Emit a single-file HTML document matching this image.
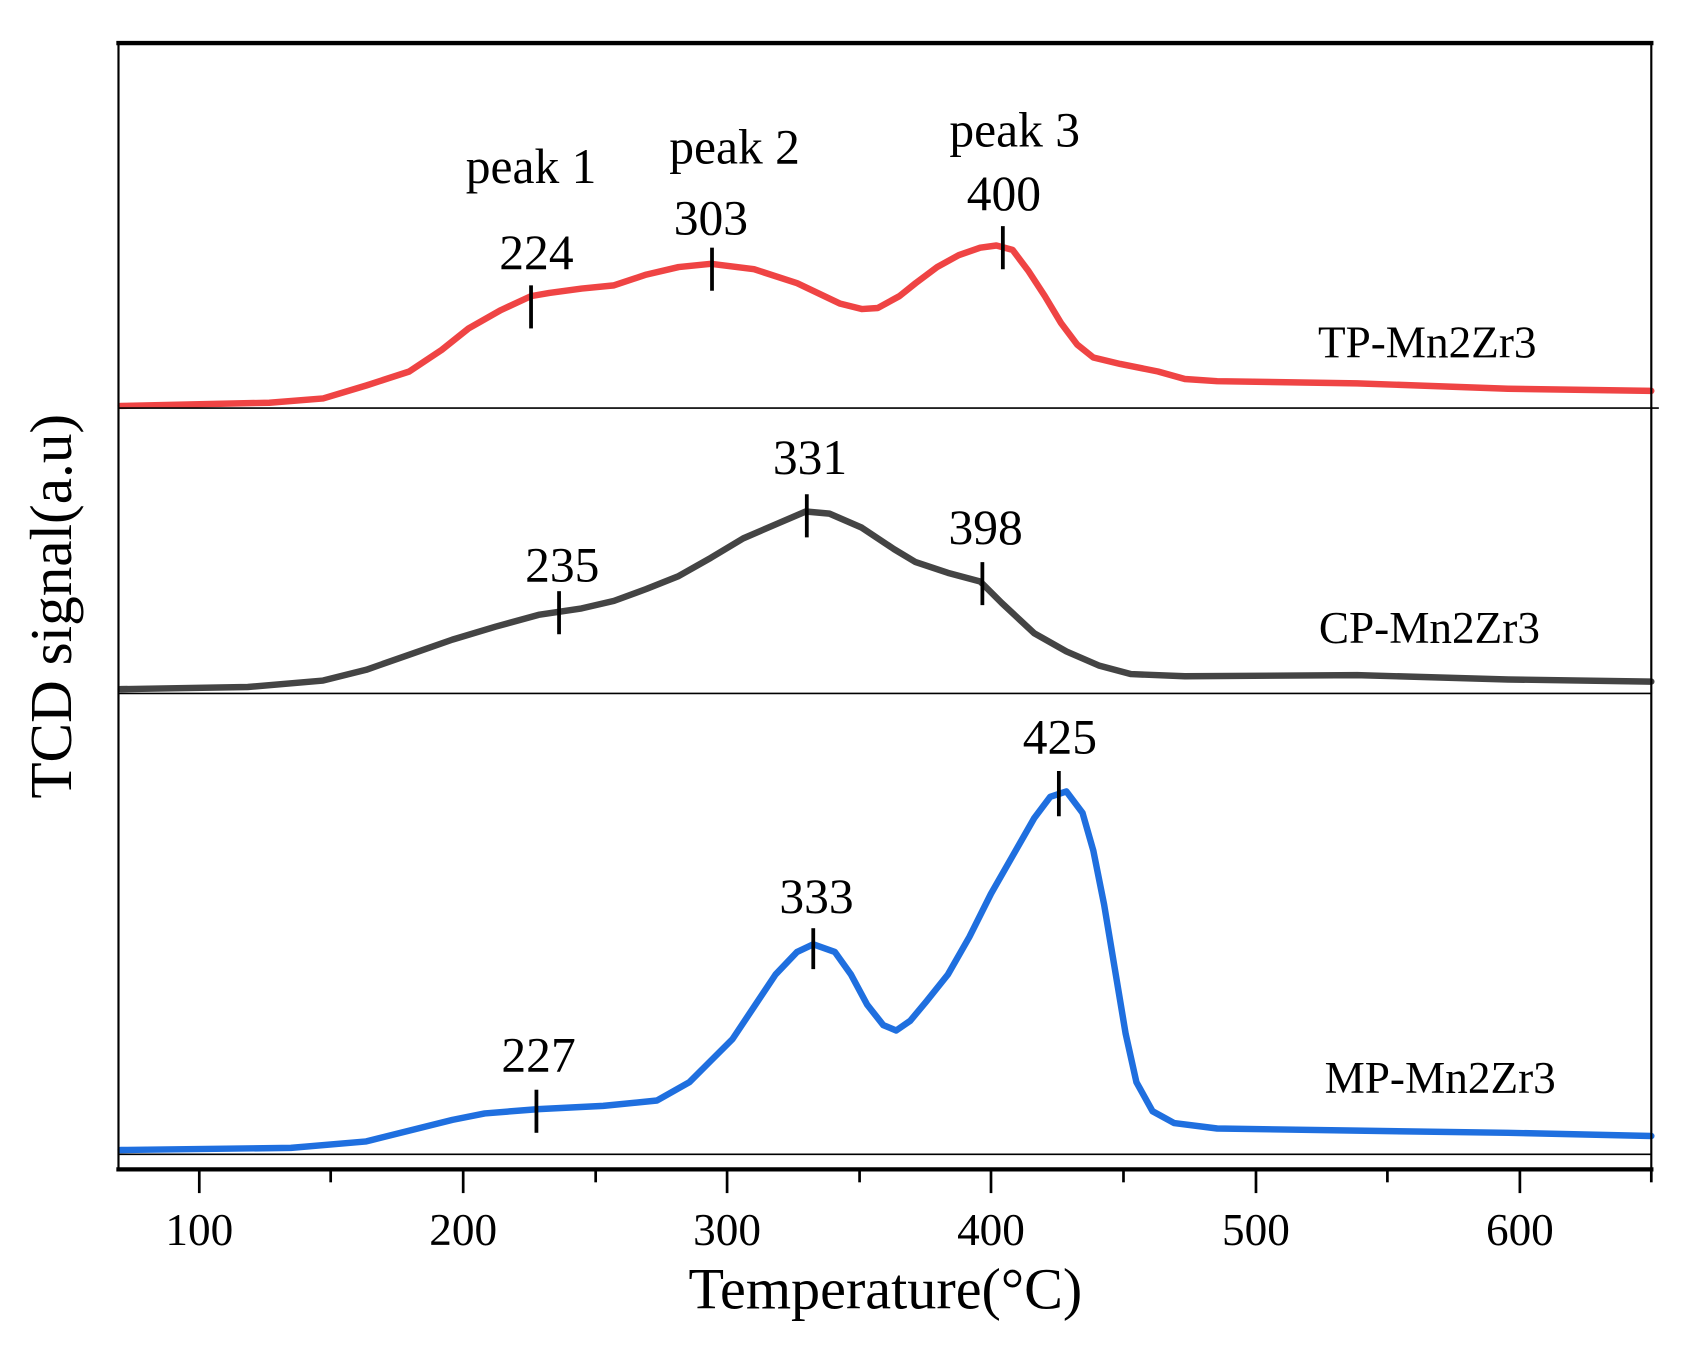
<!DOCTYPE html>
<html><head><style>html,body{margin:0;padding:0;background:#fff}svg{display:block}</style></head>
<body>
<svg width="1689" height="1346" viewBox="0 0 1568 1250" preserveAspectRatio="none" xmlns="http://www.w3.org/2000/svg" font-family="Liberation Serif, serif">
<rect width="1568" height="1250" fill="#fff"/>
<g fill="none" stroke-linejoin="round" stroke-linecap="round">
<path stroke="#ef4444" stroke-width="6" d="M112,377 L250,374 300,370 340,358 380,345 410,325 435,305 465,288 493,275 510,272 540,268 570,265 600,255 630,248 660,245 700,250 740,263 780,282 800,287 815,286 835,275 850,263 870,248 890,237 910,230 925,228 940,232 955,252 970,275 985,300 1000,320 1015,332 1040,338 1075,345 1100,352 1130,354 1260,356 1400,361 1533,363"/>
<path stroke="#444" stroke-width="6" d="M112,640 L230,638 300,632 340,622 380,608 420,594 460,582 500,571 540,565 570,558 600,547 630,535 660,518 690,500 720,487 748,475 770,477 800,490 830,510 850,522 880,532 910,540 930,560 960,588 990,605 1020,618 1050,626 1100,628 1260,627 1400,631 1533,633"/>
<path stroke="#1f6fdf" stroke-width="6" d="M112,1068 L270,1066 340,1060 380,1050 420,1040 450,1034 500,1030 560,1027 610,1022 640,1005 660,985 680,965 700,935 720,905 740,884 755,877 775,884 790,905 805,933 820,952 832,957 845,948 860,930 880,905 900,870 920,830 940,795 960,760 975,740 990,735 1005,755 1015,790 1025,840 1035,900 1045,960 1055,1005 1070,1032 1090,1043 1130,1048 1260,1050 1400,1052 1533,1055"/>
</g>
<g stroke="#000">
<line x1="110" y1="379" x2="1540" y2="379" stroke-width="1.5"/>
<line x1="110" y1="644" x2="1533" y2="644" stroke-width="1.5"/>
<line x1="110" y1="1072" x2="1533" y2="1072" stroke-width="1.5"/>
<rect x="110" y="40" width="1423" height="1046" fill="none" stroke-width="2"/>
<line x1="108" y1="40" x2="1535" y2="40" stroke-width="4"/>
<line x1="108" y1="1086" x2="1535" y2="1086" stroke-width="4"/>
<g stroke-width="3.5">
<line x1="493" y1="265" x2="493" y2="305"/><line x1="661" y1="230" x2="661" y2="270"/><line x1="931" y1="210" x2="931" y2="250"/>
<line x1="519" y1="549" x2="519" y2="589"/><line x1="749" y1="459" x2="749" y2="499"/><line x1="912" y1="522" x2="912" y2="562"/>
<line x1="498" y1="1012" x2="498" y2="1052"/><line x1="755" y1="862" x2="755" y2="900"/><line x1="983" y1="716" x2="983" y2="758"/>
</g>
<g stroke-width="2.5">
<line x1="185" y1="1086" x2="185" y2="1108"/><line x1="430" y1="1086" x2="430" y2="1108"/><line x1="675" y1="1086" x2="675" y2="1108"/><line x1="920" y1="1086" x2="920" y2="1108"/><line x1="1166" y1="1086" x2="1166" y2="1108"/><line x1="1411" y1="1086" x2="1411" y2="1108"/>
<line x1="307" y1="1086" x2="307" y2="1098"/><line x1="553" y1="1086" x2="553" y2="1098"/><line x1="798" y1="1086" x2="798" y2="1098"/><line x1="1043" y1="1086" x2="1043" y2="1098"/><line x1="1288" y1="1086" x2="1288" y2="1098"/><line x1="1533" y1="1086" x2="1533" y2="1098"/>
</g>
</g>
<g fill="#000" text-anchor="middle" font-size="46">
<text x="493" y="170">peak 1</text><text x="682" y="152">peak 2</text><text x="942" y="136">peak 3</text>
<text x="498" y="250">224</text><text x="660" y="218">303</text><text x="932" y="195">400</text>
<text x="752" y="440">331</text><text x="522" y="540">235</text><text x="915" y="505">398</text>
<text x="984" y="700">425</text><text x="758" y="848">333</text><text x="500" y="995">227</text>
</g>
<g fill="#000" text-anchor="middle" font-size="42">
<text x="1325" y="332">TP-Mn2Zr3</text><text x="1327" y="597">CP-Mn2Zr3</text><text x="1337" y="1015">MP-Mn2Zr3</text>
</g>
<g fill="#000" text-anchor="middle" font-size="42">
<text x="185" y="1156">100</text><text x="430" y="1156">200</text><text x="675" y="1156">300</text><text x="920" y="1156">400</text><text x="1166" y="1156">500</text><text x="1411" y="1156">600</text>
</g>
<text x="822" y="1215" text-anchor="middle" font-size="54" fill="#000">Temperature(°C)</text>
<text transform="translate(66,563) rotate(-90)" text-anchor="middle" font-size="55" fill="#000">TCD signal(a.u)</text>
</svg>
</body></html>
